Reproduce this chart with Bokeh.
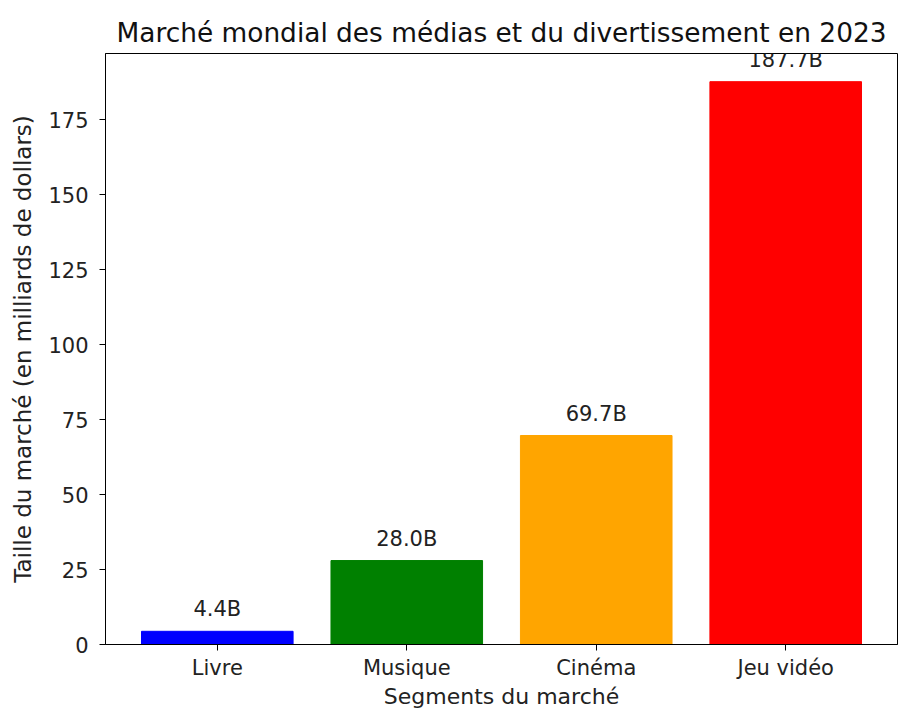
from bokeh.plotting import figure
from bokeh.models import ColumnDataSource, FixedTicker, Range1d, LabelSet
from bokeh.embed import file_html
from bokeh.resources import INLINE
from bokeh.core.properties import value

categories = ["Livre", "Musique", "Cinéma", "Jeu vidéo"]
sizes = [4.4, 28.0, 69.7, 187.7]
colors = ["blue", "green", "orange", "red"]
labels = [f"{v:.1f}B" for v in sizes]
y_ticks = [0, 25, 50, 75, 100, 125, 150, 175]

FONT = "DejaVu Sans"

xs = list(range(len(categories)))
src = ColumnDataSource(dict(x=xs, top=sizes, color=colors, label=labels,
                            ly=[v + 5 for v in sizes]))

p = figure(width=898, height=713, output_backend="svg", toolbar_location=None,
           x_range=Range1d(-0.59, 3.59), y_range=Range1d(0, 197.1),
           min_border_left=105, min_border_right=1, min_border_top=53, min_border_bottom=69,
           title="Marché mondial des médias et du divertissement en 2023")

p.vbar(x="x", top="top", width=0.8, bottom=0, color="color", source=src)
p.add_layout(LabelSet(x="x", y="ly", text="label", source=src, text_align="center",
                      text_baseline="alphabetic", text_font=value(FONT),
                      text_font_size=value("21px"), text_color="#222222"))

p.title.text_font = FONT
p.title.text_font_size = "26.4px"
p.title.text_font_style = "normal"
p.title.align = "center"
p.title.text_color = "#111111"
p.title.standoff = 11

p.xgrid.visible = False
p.ygrid.visible = False
p.outline_line_color = "black"
p.outline_line_width = 1
p.outline_line_alpha = 1

p.xaxis.ticker = FixedTicker(ticks=xs)
p.xaxis.major_label_overrides = {i: c for i, c in enumerate(categories)}
p.yaxis.ticker = FixedTicker(ticks=y_ticks)

for ax in (p.xaxis, p.yaxis):
    ax.major_label_text_font = FONT
    ax.major_label_text_font_size = "21px"
    ax.major_label_text_color = "#222222"
    ax.axis_label_text_font = FONT
    ax.axis_label_text_font_size = "23px"
    ax.axis_label_text_font_style = "normal"
    ax.axis_label_text_color = "#222222"
    ax.major_tick_in = 0
    ax.major_tick_out = 6
    ax.minor_tick_line_color = None
    ax.axis_line_color = "black"
    ax.major_tick_line_color = "black"

p.xaxis.axis_label = "Segments du marché"
p.yaxis.axis_label = "Taille du marché (en milliards de dollars)"
p.xaxis.axis_label_text_font_size = "22px"
p.xaxis.major_label_standoff = 5
p.xaxis.axis_label_standoff = 1
p.yaxis.major_label_standoff = 11
p.yaxis.axis_label_standoff = 9

open("out.html", "w").write(file_html(p, INLINE))
